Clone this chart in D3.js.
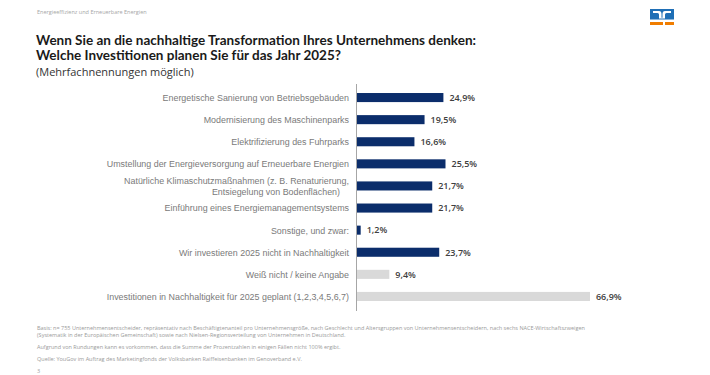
<!DOCTYPE html>
<html><head><meta charset="utf-8">
<script src="https://cdn.jsdelivr.net/npm/d3@7"></script>
<style>
html,body{margin:0;padding:0;background:#fff;}
svg{display:block;}
</style></head>
<body>
<svg id="c" width="710" height="375"></svg>
<script>
const categories = [
  ["Energetische Sanierung von Betriebsgebäuden"],
  ["Modernisierung des Maschinenparks"],
  ["Elektrifizierung des Fuhrparks"],
  ["Umstellung der Energieversorgung auf Erneuerbare Energien"],
  ["Natürliche Klimaschutzmaßnahmen (z. B. Renaturierung,", "Entsiegelung von Bodenflächen)"],
  ["Einführung eines Energiemanagementsystems"],
  ["Sonstige, und zwar:"],
  ["Wir investieren 2025 nicht in Nachhaltigkeit"],
  ["Weiß nicht / keine Angabe"],
  ["Investitionen in Nachhaltigkeit für 2025 geplant (1,2,3,4,5,6,7)"]
];
const values = [24.9, 19.5, 16.6, 25.5, 21.7, 21.7, 1.2, 23.7, 9.4, 66.9];
const groups = ["main","main","main","main","main","main","main","main","other","other"];
const valueLabels = ["24,9%","19,5%","16,6%","25,5%","21,7%","21,7%","1,2%","23,7%","9,4%","66,9%"];
const titleLines = ["Wenn Sie an die nachhaltige Transformation Ihres Unternehmens denken:",
                    "Welche Investitionen planen Sie für das Jahr 2025?"];
const subtitle = "(Mehrfachnennungen möglich)";
const header = "Energieeffizienz und Erneuerbare Energien";
const footnotes = [
  "Basis: n= 755 Unternehmensentscheider, repräsentativ nach Beschäftigtenanteil pro Unternehmensgröße, nach Geschlecht und Altersgruppen von Unternehmensentscheidern, nach sechs NACE-Wirtschaftszweigen",
  "(Systematik in der Europäischen Gemeinschaft) sowie nach Nielsen-Regionsverteilung von Unternehmen in Deutschland.",
  "Aufgrund von Rundungen kann es vorkommen, dass die Summe der Prozentzahlen in einigen Fällen nicht 100% ergibt.",
  "Quelle: YouGov im Auftrag des Marketingfonds der Volksbanken Raiffeisenbanken im Genoverband e.V.",
  "3"
];

const svg = d3.select("#c");
const colors = {main:"#0b2d6b", other:"#d9d9d9"};

// header
svg.append("text").attr("x",37).attr("y",14).attr("font-family","Open Sans")
  .attr("font-size",5.5).attr("fill","#a6a6a6").text(header);

// logo
const lg = svg.append("g");
lg.append("rect").attr("x",650).attr("y",9).attr("width",24).attr("height",10.5).attr("fill","#1f6fb6");
lg.append("path").attr("fill","#fff")
  .attr("d","M653 11 h6 q2.5 0 2.5 3 v3.8 h1 v-3.8 q0-3 2.5-3 h6 v2 h-4.5 q-1.5 0-1.5 1.5 v4 h-6 v-4 q0-1.5-1.5-1.5 h-4.5z");
lg.append("rect").attr("x",650).attr("y",22).attr("width",13).attr("height",3).attr("fill","#f07d00");
lg.append("rect").attr("x",665).attr("y",22).attr("width",9).attr("height",3).attr("fill","#f07d00");

// title
const titleWidths = [440, 305];
svg.selectAll("text.title").data(titleLines).join("text").attr("class","title")
  .attr("x",36).attr("y",(d,i)=>44.5+i*15.5)
  .attr("font-family","Lato").attr("font-weight","bold").attr("font-size",13.2)
  .attr("fill","#1a1a1a").text(d=>d)
  .attr("textLength",(d,i)=>titleWidths[i]).attr("lengthAdjust","spacingAndGlyphs");
svg.append("text").attr("x",36).attr("y",76).attr("font-family","Open Sans")
  .attr("font-size",11).attr("fill","#333").text(subtitle);

// scales
const x = d3.scaleLinear().domain([0, 100]).range([356.5, 356.5 + 349]);
const y = d3.scaleBand().domain(d3.range(values.length)).range([86.5, 307.5]).paddingInner(0.59).paddingOuter(0.295);

// bars
svg.selectAll("rect.bar").data(values).join("rect").attr("class","bar")
  .attr("x", x(0)).attr("y",(d,i)=>y(i)).attr("width",d=>x(d)-x(0)).attr("height",y.bandwidth())
  .attr("fill",(d,i)=>colors[groups[i]]);

// axis line
const axis = d3.axisLeft(y).tickSize(0).tickFormat("");
const ag = svg.append("g").attr("transform",`translate(${x(0)},0)`).call(axis);
ag.select(".domain").attr("stroke","#a6a6a6").attr("stroke-width",1)
  .attr("d","M0,84V311");

// category labels
const lab = svg.selectAll("text.cat").data(categories).join("text").attr("class","cat")
  .attr("font-family","Liberation Sans, Arial").attr("font-size",9.6).attr("fill","#7a7a7a")
  .attr("text-anchor","end");
lab.each(function(d,i){
  const cy = y(i)+y.bandwidth()/2;
  const t = d3.select(this);
  const lines = d.length===1 ? [[349, cy+3.4, d[0]]] : [[349, cy-1.5, d[0]],[340, cy+8.6, d[1]]];
  lines.forEach(([lx,ly,s])=>{
    const ts = t.append("tspan").attr("x",lx).attr("y",ly).text(s);
    const w = ts.node().getComputedTextLength();
    ts.attr("textLength", w*0.927).attr("lengthAdjust","spacingAndGlyphs");
  });
});

// value labels
svg.selectAll("text.val").data(values).join("text").attr("class","val")
  .attr("x",d=>x(d)+6).attr("y",(d,i)=>y(i)+y.bandwidth()/2+3.3)
  .attr("font-family","Open Sans").attr("font-weight","600").attr("font-size",9)
  .attr("fill","#404040").text((d,i)=>valueLabels[i]);

// footnotes
const fy = [328, 335.5, 347.5, 359, 371.5];
svg.selectAll("text.fn").data(footnotes).join("text").attr("class","fn")
  .attr("x",37).attr("y",(d,i)=>fy[i]+1.7).attr("font-family","Open Sans")
  .attr("font-size",5.5).attr("fill","#9a9a9a").text(d=>d);
</script>
</body></html>
